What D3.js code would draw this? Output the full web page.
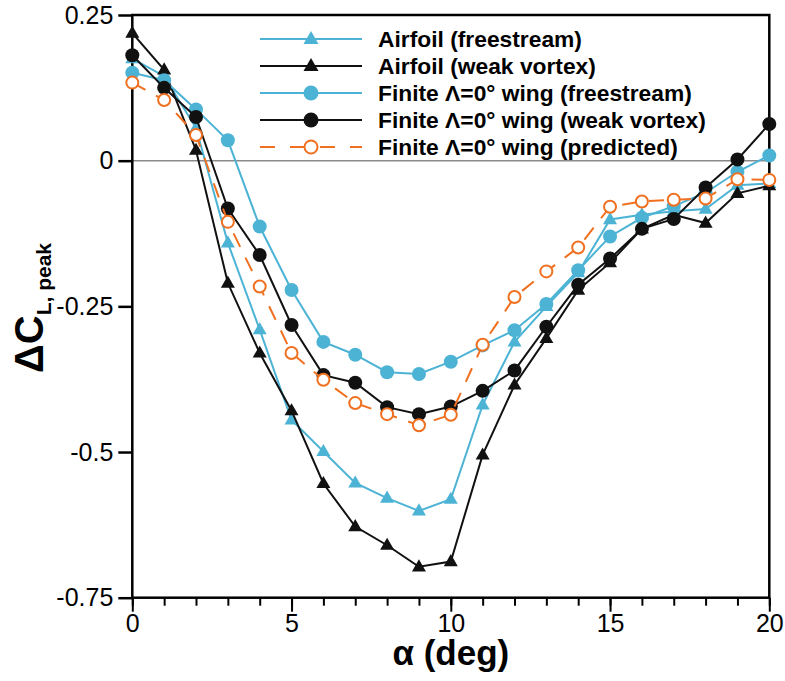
<!DOCTYPE html>
<html>
<head>
<meta charset="utf-8">
<style>
  body { margin: 0; background: #fff; }
  svg text { font-family: "Liberation Sans", Arial, sans-serif; fill: #000; }
</style>
</head>
<body>
<div id="chart"></div>
<script src="https://d3js.org/d3.v7.min.js"></script>
<script>
  // angle of attack (deg)
  var alpha = [0, 1, 2, 3, 4, 5, 6, 7, 8, 9, 10, 11, 12, 13, 14, 15, 16, 17, 18, 19, 20];

  // delta CL,peak
  var airfoilFree = [0.175, 0.145, 0.056, -0.141, -0.29, -0.445, -0.499, -0.553, -0.579, -0.601, -0.581,
    -0.419, -0.311, -0.25, -0.192, -0.101, -0.093, -0.087, -0.083, -0.042, -0.039];
  var airfoilVortex = [0.219, 0.156, 0.018, -0.21, -0.33, -0.429, -0.554, -0.628, -0.66, -0.697, -0.688,
    -0.505, -0.385, -0.305, -0.222, -0.175, -0.117, -0.093, -0.107, -0.056, -0.043];
  var finiteFree = [0.151, 0.138, 0.088, 0.035, -0.113, -0.222, -0.311, -0.333, -0.363, -0.366, -0.345,
    -0.317, -0.291, -0.246, -0.188, -0.13, -0.098, -0.078, -0.055, -0.019, 0.009];
  var finiteVortex = [0.181, 0.125, 0.075, -0.082, -0.162, -0.282, -0.368, -0.381, -0.423, -0.435, -0.422,
    -0.395, -0.36, -0.285, -0.213, -0.168, -0.117, -0.1, -0.046, 0.002, 0.063];
  var predicted = [0.134, 0.104, 0.044, -0.105, -0.216, -0.33, -0.376, -0.416, -0.435, -0.454, -0.436,
    -0.316, -0.234, -0.19, -0.149, -0.079, -0.07, -0.067, -0.065, -0.032, -0.033];

  var yTicks = [0.25, 0, -0.25, -0.5, -0.75];
  var yTickLabels = ["0.25", "0", "-0.25", "-0.5", "-0.75"];
  var xMajor = [0, 5, 10, 15, 20];

  var blue = "#4cb3d5", black = "#111111", orange = "#f07020";

  var series = [
    { name: "Airfoil (freestream)", values: airfoilFree, color: blue, marker: "tri", dash: null },
    { name: "Airfoil (weak vortex)", values: airfoilVortex, color: black, marker: "tri", dash: null },
    { name: "Finite \u039B=0\u00B0 wing (freestream)", values: finiteFree, color: blue, marker: "dot", dash: null },
    { name: "Finite \u039B=0\u00B0 wing (weak vortex)", values: finiteVortex, color: black, marker: "dot", dash: null },
    { name: "Finite \u039B=0\u00B0 wing (predicted)", values: predicted, color: orange, marker: "open", dash: "15,12" }
  ];

  var W = 785, H = 681;
  var plotL = 132.3, plotR = 769.3, plotT = 15, plotB = 597.7;

  var x = d3.scaleLinear().domain([0, 20]).range([plotL, plotR]);
  var y = d3.scaleLinear().domain([-0.75, 0.25]).range([plotB, plotT]);

  var svg = d3.select("#chart").append("svg")
    .attr("width", W)
    .attr("height", H);

  // zero line
  svg.append("line")
    .attr("x1", plotL).attr("x2", plotR)
    .attr("y1", y(0)).attr("y2", y(0))
    .attr("stroke", "#8a8a8a")
    .attr("stroke-width", 1.5);

  // x axis: minor + major ticks
  var xMinor = svg.append("g")
    .attr("transform", "translate(0," + plotB + ")")
    .call(d3.axisBottom(x).tickValues(alpha).tickSize(8).tickFormat(""));
  var xAx = svg.append("g")
    .attr("transform", "translate(0," + plotB + ")")
    .call(d3.axisBottom(x).tickValues(xMajor).tickSize(14).tickPadding(3).tickFormat(d3.format("d")));

  var yAx = svg.append("g")
    .attr("transform", "translate(" + plotL + ",0)")
    .call(d3.axisLeft(y).tickValues(yTicks).tickSize(14).tickPadding(5)
      .tickFormat(function(d, i) { return yTickLabels[i]; }));

  [xMinor, xAx, yAx].forEach(function(g) {
    g.select(".domain").remove();
    g.selectAll(".tick line").attr("stroke", "#000").attr("stroke-width", 2);
    g.selectAll(".tick text")
      .style("font-size", "25px")
      .style("font-family", "'Liberation Sans', Arial, sans-serif")
      .attr("fill", "#000");
  });
  yAx.selectAll(".tick line").attr("stroke-width", 2.5);

  // frame
  svg.append("rect")
    .attr("x", plotL).attr("y", plotT)
    .attr("width", plotR - plotL).attr("height", plotB - plotT)
    .attr("fill", "none")
    .attr("stroke", "#000")
    .attr("stroke-width", 2.5);

  var line = d3.line()
    .x(function(d, i) { return x(alpha[i]); })
    .y(function(d) { return y(d); });

  var triPath = function(s) {
    var h = s * 0.866;
    return "M0," + (-h * 0.62) + "L" + (s / 2) + "," + (h * 0.38) + "L" + (-s / 2) + "," + (h * 0.38) + "Z";
  };

  function drawMarker(g, type, color, size) {
    if (type === "tri") {
      g.append("path").attr("d", triPath(size)).attr("fill", color);
    } else if (type === "dot") {
      g.append("circle").attr("r", size / 2).attr("fill", color);
    } else {
      g.append("circle").attr("r", size / 2 - 1).attr("fill", "#fff")
        .attr("stroke", color).attr("stroke-width", 2);
    }
  }

  series.forEach(function(s) {
    var g = svg.append("g");
    g.append("path")
      .datum(s.values)
      .attr("d", line)
      .attr("fill", "none")
      .attr("stroke", s.color)
      .attr("stroke-width", 2)
      .attr("stroke-dasharray", s.dash);
    g.selectAll(".m")
      .data(s.values)
      .enter()
      .append("g")
      .attr("transform", function(d, i) { return "translate(" + x(alpha[i]) + "," + y(d) + ")"; })
      .each(function() { drawMarker(d3.select(this), s.marker, s.color, 14); });
  });

  // legend
  var legend = svg.append("g");
  series.forEach(function(s, i) {
    var ly = 39 + i * 27;
    legend.append("line")
      .attr("x1", 260).attr("x2", 362)
      .attr("y1", ly).attr("y2", ly)
      .attr("stroke", s.color)
      .attr("stroke-width", 2.2)
      .attr("stroke-dasharray", s.dash ? "15,15" : null);
    var m = legend.append("g").attr("transform", "translate(311," + ly + ")");
    drawMarker(m, s.marker, s.color, 15);
    legend.append("text")
      .attr("x", 378)
      .attr("y", ly + 8)
      .style("font-size", "22.8px")
      .style("font-weight", "bold")
      .text(s.name);
  });

  // axis titles
  svg.append("text")
    .attr("x", (plotL + plotR) / 2)
    .attr("y", 665)
    .attr("text-anchor", "middle")
    .style("font-size", "35px")
    .style("font-weight", "bold")
    .text("\u03B1 (deg)");

  var yt = svg.append("text")
    .attr("transform", "translate(43,373) rotate(-90)")
    .style("font-weight", "bold");
  yt.append("tspan").style("font-size", "40px").text("\u0394C");
  yt.append("tspan").style("font-size", "21px").attr("dy", 8).text("L, peak");
</script>
</body>
</html>
